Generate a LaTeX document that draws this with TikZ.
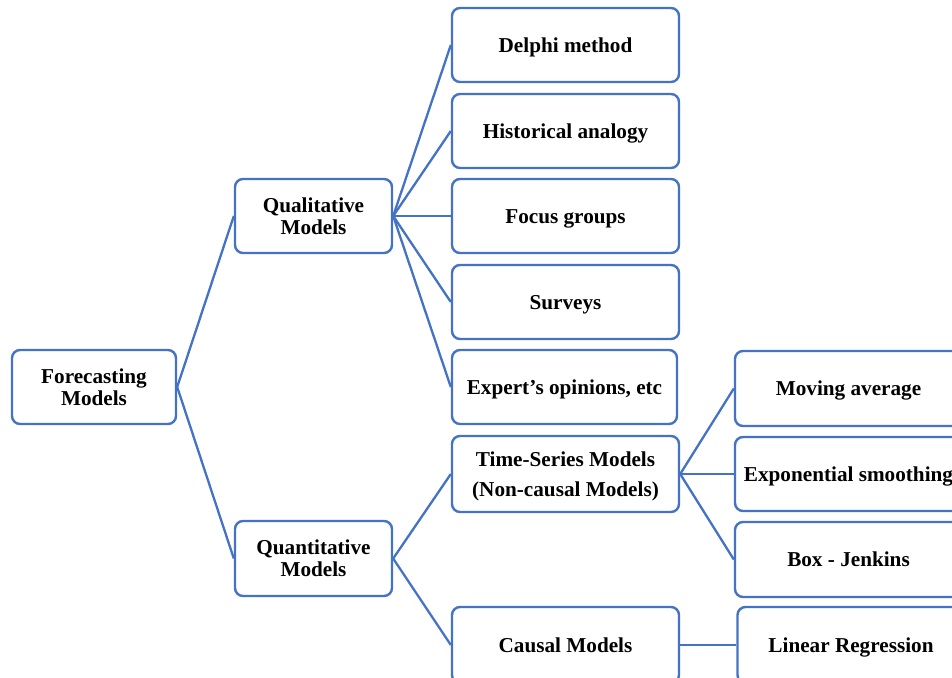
\documentclass[tikz,border=0pt]{standalone}
\usepackage{fontspec}
\setmainfont{Liberation Serif}
\definecolor{lineblue}{HTML}{4472C4}
\newcommand{\onel}[1]{\raisebox{-7.2pt}[0pt][0pt]{#1}}
\begin{document}
\begin{tikzpicture}[x=1pt,y=-1pt,
  box/.style={draw=lineblue, line width=2.4pt, rounded corners=8pt, fill=white,
    align=center, inner sep=0pt, font=\fontsize{21.2}{22}\selectfont\bfseries,
    minimum width=227pt, minimum height=74pt},
  link/.style={draw=lineblue, line width=2.3pt}]
\useasboundingbox (0,0) rectangle (952,677);
\clip (0,0) rectangle (952,677);
% nodes
\node[box, minimum width=164pt] (fm) at (94,387) {Forecasting\\Models};
\node[box, minimum width=157pt] (ql) at (313.5,216) {Qualitative\\Models};
\node[box, minimum width=157pt, minimum height=75pt] (qn) at (313.5,558.5) {Quantitative\\Models};
\node[box] (d1) at (565.5,45) {\onel{Delphi method}};
\node[box] (d2) at (565.5,131) {\onel{Historical analogy}};
\node[box] (d3) at (565.5,216) {\onel{Focus groups}};
\node[box] (d4) at (565.5,302) {\onel{Surveys}};
\node[box, minimum width=225pt] (d5) at (564.5,387) {\onel{Expert’s opinions, etc}};
\node[box, minimum height=76pt] (ts) at (565.5,474) {\raisebox{-8pt}[0pt][0pt]{\begin{tabular}{@{}c@{}}Time-Series Models\\[8pt](Non-causal Models)\end{tabular}}};
\node[box, minimum height=76pt] (cm) at (565.5,645) {\onel{Causal Models}};
\node[box, minimum height=75pt] (t1) at (848.5,388.5) {\onel{Moving average}};
\node[box] (t2) at (848.5,474) {\onel{Exponential smoothing}};
\node[box, minimum height=75pt] (t3) at (848.5,559.5) {\onel{Box - Jenkins}};
\node[box, minimum height=76pt] (c1) at (851,645) {\onel{Linear Regression}};
% connectors
\draw[link] (fm.east) -- (ql.west);
\draw[link] (fm.east) -- (qn.west);
\foreach \n in {d1,d2,d3,d4,d5} \draw[link] (ql.east) -- (\n.west);
\draw[link] (qn.east) -- (ts.west);
\draw[link] (qn.east) -- (cm.west);
\foreach \n in {t1,t2,t3} \draw[link] (ts.east) -- (\n.west);
\draw[link] (cm.east) -- (c1.west);
\end{tikzpicture}
\end{document}
